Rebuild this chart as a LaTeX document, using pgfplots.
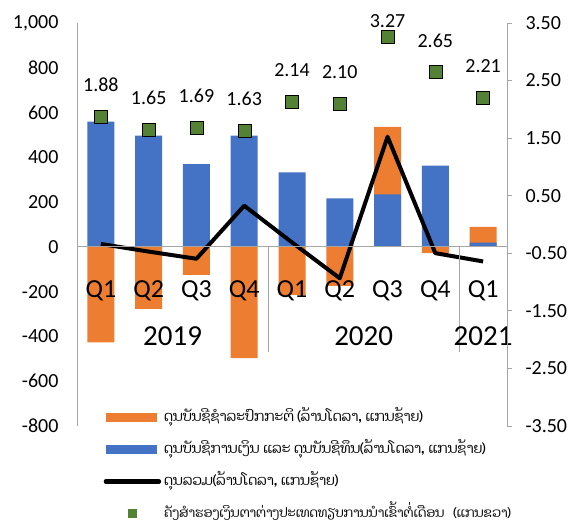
\documentclass[border=0pt]{standalone}
\usepackage{pgfplots}
\pgfplotsset{compat=1.18}
\usepackage{pgfplotstable}
\usepackage{fontspec}
\setmainfont{Carlito}
\newfontfamily\laofont[Script=Lao]{Dhyana}
\definecolor{xorange}{HTML}{ED7D31}
\definecolor{xblue}{HTML}{4472C4}
\definecolor{xgreen}{HTML}{548235}
\definecolor{axgray}{HTML}{A6A6A6}

% x: quarter index; fa: financial+capital account; ca: current account;
% ob: overall balance (million USD, left axis); res: reserves in months of imports (right axis)
\pgfplotstableread{
x fa ca ob res
0 560 -427 13 1.88
1 497 -277 -21 1.65
2 370 -125 -53 1.69
3 497 -497 184 1.63
4 333 -214 20 2.14
5 217 -174 -140 2.10
6 235 301 492 3.27
7 363 -28 -28 2.65
8 19 70 -65 2.21
}\bop

\begin{document}
\begin{tikzpicture}
\useasboundingbox (-77bp,-96bp) rectangle (500bp,426bp);
\begin{axis}[
  scale only axis, width=430bp, height=403bp,
  xmin=-0.5, xmax=8.5, ymin=-800, ymax=1000,
  axis y line*=left, axis x line*=middle,
  axis on top,
  axis line style={axgray, line width=0.8bp},
  ytick={-800,-600,-400,-200,0,200,400,600,800,1000},
  xtick={0,...,8}, xticklabels={Q1,Q2,Q3,Q4,Q1,Q2,Q3,Q4,Q1},
  major tick length=0pt,
  /pgf/number format/assume math mode=true,
  /pgf/number format/1000 sep={,},
  yticklabel style={font=\fontsize{20bp}{24bp}\selectfont, xshift=-15bp},
  xticklabel style={font=\fontsize{26bp}{30bp}\selectfont, yshift=-30bp, anchor=north},
  clip=false,
  legend style={at={(0.062,0.041)}, anchor=north west, draw=none, fill=none,
    inner sep=0pt, outer sep=0pt,
    font=\laofont\fontsize{14bp}{17bp}\selectfont,
    nodes={inner xsep=3bp, inner ysep=0pt, text height=12bp, text depth=4bp},
    row sep=16bp},
  legend cell align=left,
]
\addplot[ybar, bar width=27bp, bar shift=0pt, fill=xorange, draw=none,
  legend image code/.code={\fill[xorange] (0bp,-4.5bp) rectangle (51bp,4.5bp);}]
  table[x=x, y expr={\thisrow{ca}>0 ? \thisrow{ca}+\thisrow{fa} : \thisrow{ca}}]{\bop};
\addlegendentry{ດຸນບັນຊີຊຳລະປົກກະຕິ (ລ້ານໂດລາ, ແກນຊ້າຍ)}
\addplot[ybar, bar width=27bp, bar shift=0pt, fill=xblue, draw=none,
  legend image code/.code={\fill[xblue] (0bp,-4.5bp) rectangle (51bp,4.5bp);}]
  table[x=x, y=fa]{\bop};
\addlegendentry{ດຸນບັນຊີການເງິນ ແລະ ດຸນບັນຊີທຶນ(ລ້ານໂດລາ, ແກນຊ້າຍ)}
\addplot[black, line width=4bp, line join=round, mark=none,
  legend image code/.code={\draw[black, line width=4.5bp, line cap=round] (0bp,0bp) -- (53bp,0bp);}]
  table[x=x, y=ob]{\bop};
\addlegendentry{ດຸນລວມ(ລ້ານໂດລາ, ແກນຊ້າຍ)}
\addlegendimage{legend image code/.code={\fill[xgreen] (22bp,-4bp) rectangle (30bp,4bp);}}
\addlegendentry{\fontsize{13bp}{16bp}\selectfont ຄັງສຳຮອງເງິນຕາຕ່າງປະເທດທຽບການນຳເຂົ້າຕໍ່ເດືອນ\hspace{6bp} (ແກນຂວາ)}
\draw[axgray, line width=0.8bp] (axis cs:3.5,0) -- (axis cs:3.5,-470);
\draw[axgray, line width=0.8bp] (axis cs:7.5,0) -- (axis cs:7.5,-470);
\node[font=\fontsize{29bp}{34bp}\selectfont] at (axis cs:1.5,-397) {2019};
\node[font=\fontsize{29bp}{34bp}\selectfont] at (axis cs:5.5,-397) {2020};
\node[font=\fontsize{29bp}{34bp}\selectfont] at (axis cs:8,-397) {2021};
\end{axis}
\begin{axis}[
  scale only axis, width=430bp, height=403bp,
  xmin=-0.5, xmax=8.5, ymin=-3.5, ymax=3.5,
  axis y line*=right, axis x line=none,
  axis line style={axgray, line width=0.8bp},
  ytick={-3.5,-2.5,-1.5,-0.5,0.5,1.5,2.5,3.5},
  ytick align=outside, major tick length=5bp,
  tick style={axgray, line width=0.8bp},
  /pgf/number format/assume math mode=true,
  yticklabel style={/pgf/number format/.cd, fixed, fixed zerofill, precision=2, /tikz/.cd,
    font=\fontsize{20bp}{24bp}\selectfont, xshift=10bp},
  clip=false,
]
\addplot[only marks, mark=square*, mark size=6.5bp, mark options={fill=xgreen, draw=none},
  nodes near coords, point meta=y,
  nodes near coords style={font=\fontsize{20bp}{24bp}\selectfont, anchor=south, yshift=21bp, text=black,
    /pgf/number format/fixed, /pgf/number format/fixed zerofill, /pgf/number format/precision=2},
  x filter/.expression={x==6 ? nan : x}]
  table[x=x, y=res]{\bop};
\addplot[only marks, mark=square*, mark size=6.5bp, mark options={fill=xgreen, draw=none},
  nodes near coords, point meta=y,
  nodes near coords style={font=\fontsize{20bp}{24bp}\selectfont, anchor=south, yshift=5bp, text=black,
    /pgf/number format/fixed, /pgf/number format/fixed zerofill, /pgf/number format/precision=2},
  x filter/.expression={x==6 ? x : nan}]
  table[x=x, y=res]{\bop};
\end{axis}
\end{tikzpicture}
\end{document}
